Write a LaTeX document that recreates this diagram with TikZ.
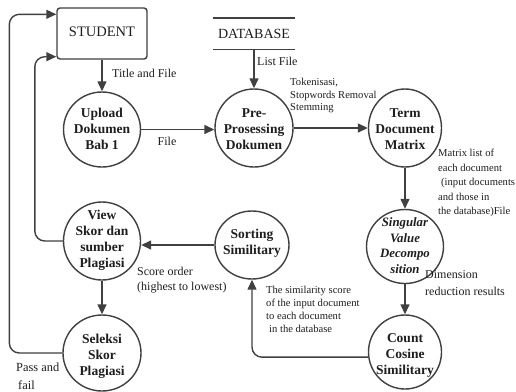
\documentclass[tikz,border=0pt]{standalone}
\usepackage{fontspec}
\setmainfont{Liberation Serif}
\usetikzlibrary{arrows.meta,shapes.geometric,calc}
\definecolor{ln}{HTML}{404040}
\definecolor{tx}{HTML}{1E1E1E}
\begin{document}
\begin{tikzpicture}[x=1pt,y=-1pt,
  proc/.style={ellipse, draw=ln, line width=1.4pt, inner sep=0pt},
  ptext/.style={align=center, inner sep=0pt, text=tx, font=\fontsize{13.5}{16}\selectfont\bfseries},
  conn/.style={draw=ln, line width=1.4pt, -{Triangle[length=10pt,width=9pt]}},
  lbl/.style={inner sep=0pt, align=left, text=tx, font=\fontsize{12}{15}\selectfont},
  small/.style={inner sep=0pt, align=left, text=tx, font=\fontsize{10.6}{13}\selectfont}]
\useasboundingbox (0,0) rectangle (516,391);
\fill[white] (0,0) rectangle (516,391);

% external entities
\node[draw=ln, line width=1.4pt, rounded corners=3pt, minimum width=90pt, minimum height=51pt,
      inner sep=0pt, text=tx, font=\fontsize{14.5}{16}\selectfont] (student) at (102,33.5) {\raisebox{3pt}{STUDENT}};
\node[minimum width=82pt, minimum height=31pt, inner sep=0pt, text=tx,
      font=\fontsize{14}{16}\selectfont] (db) at (254,33.5) {DATABASE};
\draw[ln, line width=1.4pt] (db.north west) -- (db.north east) (db.south west) -- (db.south east);

% processes
\node[proc, minimum width=77pt, minimum height=75pt,
      label={[ptext, yshift=0.8pt]center:Upload\\Dokumen\\Bab 1}] (upload) at (102,129.5) {};
\node[proc, minimum width=78pt, minimum height=78pt,
      label={[ptext, yshift=-0.7pt]center:Pre-\\Prosessing\\Dokumen}] (pre) at (254,128) {};
\node[proc, minimum width=73pt, minimum height=78pt,
      label={[ptext, yshift=-0.7pt]center:Term\\Document\\Matrix}] (term) at (405,128) {};
\node[proc, minimum width=77pt, minimum height=74pt,
      label={[ptext, font=\fontsize{12.8}{15.5}\selectfont\bfseries\itshape, yshift=1pt]center:Singular\\Value\\Decompo\\sition}] (svd) at (405,246.5) {};
\node[proc, minimum width=73pt, minimum height=74pt,
      label={[ptext, yshift=-3pt]center:Count\\Cosine\\Similitary}] (count) at (405,352) {};
\node[proc, minimum width=74pt, minimum height=68pt,
      label={[ptext, yshift=2pt]center:Sorting\\Similitary}] (sorting) at (252,245) {};
\node[proc, minimum width=77pt, minimum height=78pt,
      label={[ptext, yshift=1pt]center:View\\Skor dan\\sumber\\Plagiasi}] (view) at (102,241) {};
\node[proc, minimum width=78pt, minimum height=76pt,
      label={[ptext, yshift=-3.5pt]center:Seleksi\\Skor\\Plagiasi}] (seleksi) at (102,353) {};

% flows
\draw[conn] (student.south) -- (upload.north);
\draw[conn] (db.south) -- (pre.north);
\draw[conn] (upload.east) -- (upload.east -| pre.west);
\draw[conn] (pre.east) -- (term.west);
\draw[conn] (term.south) -- (svd.north);
\draw[conn] (svd.south) -- (count.north);
\draw[conn, rounded corners=10pt] (count.188) -| (sorting.south);
\draw[conn] (sorting.west) -- (sorting.west -| view.east);
\draw[conn] (view.south) -- (seleksi.north);
\draw[conn, rounded corners=10pt] (view.west) -- ++(-28,0) |- ([yshift=3pt]student.south west);
\draw[conn, rounded corners=10pt] (seleksi.west) -- ++(-53,0) |- ([yshift=-7pt]student.north west);

% labels
\node[lbl, anchor=west] (l1) at (112,73) {Title and File};
\node[lbl, anchor=west] (l2) at (257,61) {List File};
\node[lbl] (l3) at (167,141) {File};
\node[small, anchor=north west, font=\fontsize{10.6}{12.5}\selectfont] (l4) at (290,78) {Tokenisasi,\\Stopwords Removal\\Stemming};
\node[small, anchor=north west, font=\fontsize{10.6}{14.5}\selectfont] (l5) at (438,149)
  {Matrix list of\\each document\\\hspace*{3pt}(input documents\\and those in\\the database)File};
\node[lbl, anchor=north west, font=\fontsize{12}{17}\selectfont] (l6) at (425,270) {Dimension\\reduction results};
\node[lbl, anchor=north west] (l7) at (137,267) {Score order\\(highest to lowest)};
\node[small, anchor=north west] (l8) at (266,286)
  {The similarity score\\of the input document\\to each document\\\hspace*{3pt}in the database};
\node[lbl, anchor=north west, font=\fontsize{12.4}{18}\selectfont] (l9) at (16,363) {Pass and\\\hspace*{2pt}fail};
\end{tikzpicture}
\end{document}
